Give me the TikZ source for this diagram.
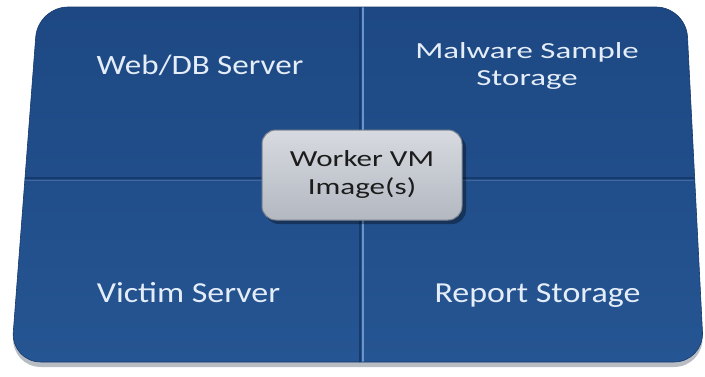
\documentclass[tikz,border=0pt]{standalone}
\usepackage{fontspec}
\setmainfont{Carlito}
\usepackage{graphicx}
\definecolor{bluetop}{HTML}{1D4883}
\definecolor{bluebot}{HTML}{255592}
\definecolor{divdark}{HTML}{163A6C}
\definecolor{divlight}{HTML}{6A94CB}
\definecolor{labelc}{HTML}{E4EDF8}
\definecolor{boxtop}{HTML}{D7DAE0}
\definecolor{boxbot}{HTML}{B3B8C1}
\definecolor{boxedge}{HTML}{7F858F}
\definecolor{boxtext}{HTML}{1C1C1C}
\definecolor{shadowc}{HTML}{9AA0AA}
\tikzset{
  lbl/.style={text=labelc, inner sep=0pt},
  centerbox/.style={rounded corners=14pt, top color=boxtop, bottom color=boxbot, draw=boxedge, line width=1pt},
}
\begin{document}
\begin{tikzpicture}[x=1pt,y=-1pt]
\useasboundingbox (0,0) rectangle (705,376);
% shadow
\fill[shadowc, opacity=0.7, rounded corners=30pt] (38,11) -- (686,11) -- (704,367) -- (11,367) -- cycle;
% main panel
\shade[top color=bluetop, bottom color=bluebot, rounded corners=30pt] (38,7) -- (686,7) -- (704,362) -- (11,362) -- cycle;
\begin{scope}
  \clip[rounded corners=30pt] (38,7) -- (686,7) -- (704,362) -- (11,362) -- cycle;
  \coordinate (vt) at (362,0);
  \coordinate (vb) at (362,376);
  \coordinate (hl) at (0,178);
  \coordinate (hr) at (705,178);
  \draw[divdark, line width=2pt] (hl) -- (hr);
  \draw[bluebot!70!white!90!bluetop, line width=0.8pt, opacity=0.5] ([yshift=-2pt]hl) -- ([yshift=-2pt]hr);
  \draw[divdark, line width=1.4pt] ([xshift=-2pt]vt) -- ([xshift=-2pt]vb);
  \draw[divlight, line width=1.4pt] ([xshift=0.8pt]vt) -- ([xshift=0.8pt]vb);
\end{scope}
\draw[draw=divdark, line width=0.6pt, rounded corners=30pt] (38,7) -- (686,7) -- (704,362) -- (11,362) -- cycle;
% labels
\node[lbl, anchor=base] (web) at (200,74) {\fontsize{28}{32}\selectfont\scalebox{1.18}[1]{Web/DB Server}};
\node[lbl, anchor=center] (mal) at (527,67) {\fontsize{23}{27}\selectfont\scalebox{1.43}[1]{\begin{tabular}{@{}c@{}}Malware Sample\\Storage\end{tabular}}};
\node[lbl, anchor=base] (vic) at (188.5,302) {\fontsize{29}{33}\selectfont\scalebox{1.17}[1]{Victim Server}};
\node[lbl, anchor=base] (rep) at (537.5,302) {\fontsize{29}{33}\selectfont\scalebox{1.17}[1]{Report Storage}};
% center box
\fill[black, opacity=0.35, rounded corners=14pt] (265,134) rectangle (466,224);
\node[centerbox, minimum width=200pt, minimum height=90pt, inner sep=0pt] (wvm) at (362,175) {};
\node[text=boxtext, inner sep=0pt] (wvmtext) at (wvm.center) {\fontsize{23}{28}\selectfont\scalebox{1.35}[1]{\begin{tabular}{@{}c@{}}Worker VM\\Image(s)\end{tabular}}};
\end{tikzpicture}
\end{document}
